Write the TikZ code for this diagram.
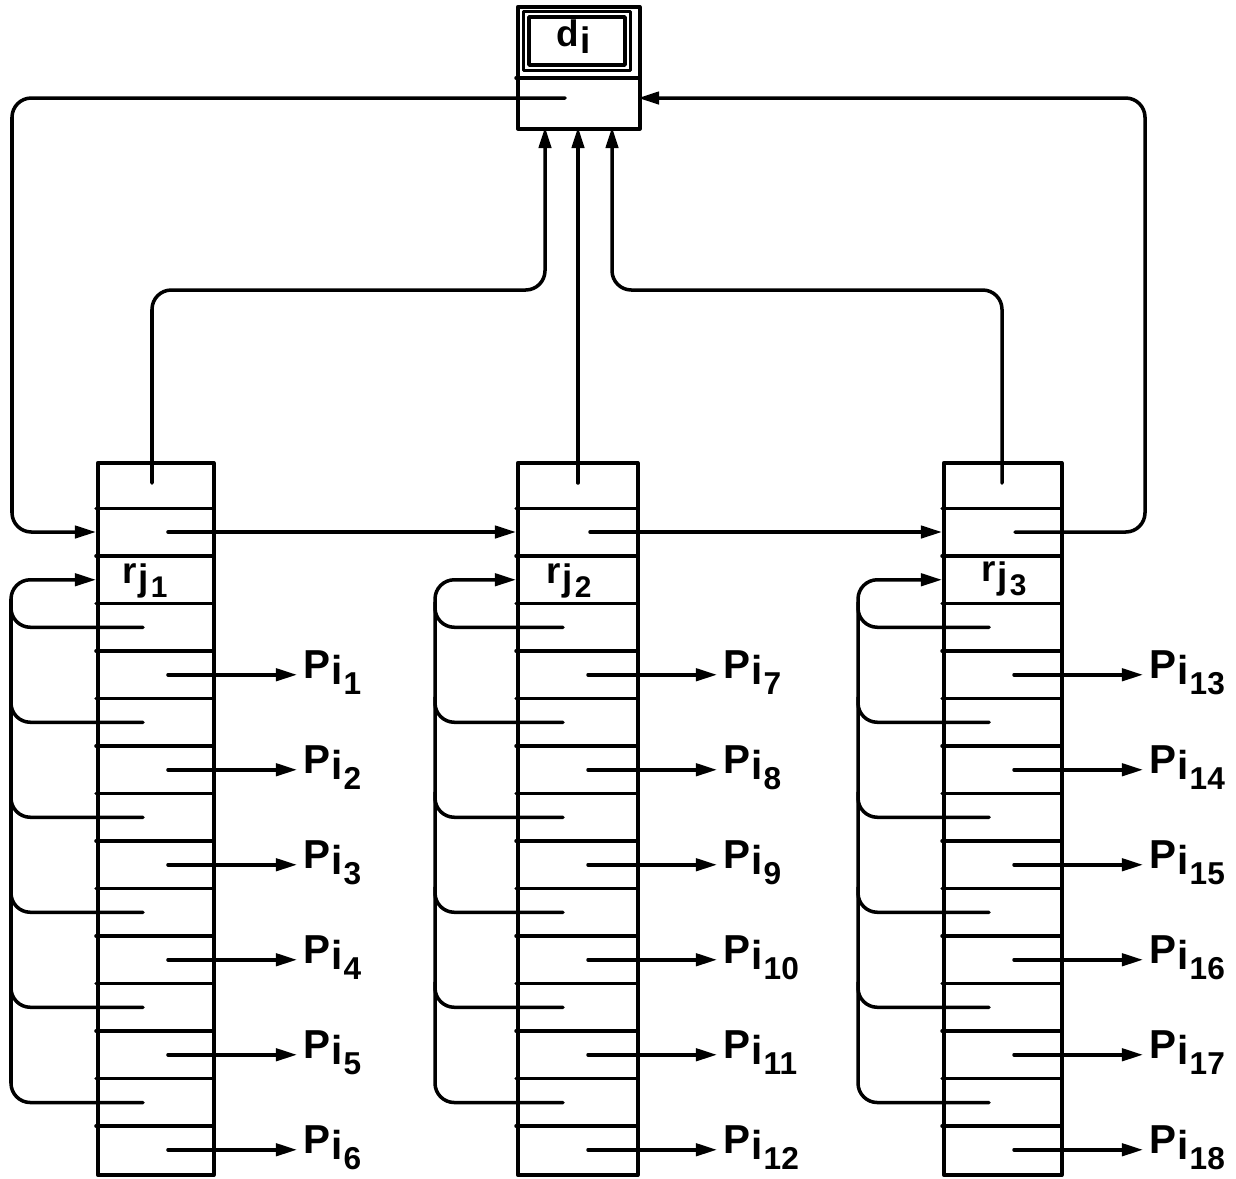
\documentclass[tikz,border=0pt]{standalone}
\usepackage{fontspec}
\setmainfont{Liberation Sans}
\usetikzlibrary{arrows.meta}
\newcommand\plab[1]{\fontsize{23}{23}\selectfont\bfseries P\kern0.5pt\raisebox{-3pt}{i}\kern0.5pt\raisebox{-9pt}{\fontsize{18}{18}\selectfont #1}}
\newcommand\rlab[1]{\fontsize{21}{21}\selectfont\bfseries r\kern1pt\raisebox{-4pt}{j}\kern1pt\raisebox{-8pt}{\fontsize{17}{17}\selectfont #1}}
\begin{document}
\begin{tikzpicture}[x=0.02cm,y=-0.02cm, line width=2pt, line cap=round, line join=round,
  >={Triangle[length=12pt,width=7pt]},
  conn/.style={->,rounded corners=11pt},
  bus/.style={rounded corners=11pt},
  lab/.style={anchor=base west,inner sep=0pt}]
\useasboundingbox (0,0) rectangle (1236,1178);

% top box d_i
\node[draw, inner sep=0pt, minimum width=2.44cm, minimum height=2.44cm, anchor=north west] (dbox) at (516,5) {};
\draw (523.5,11.5) rectangle (630.5,70.5);
\draw (529,17) rectangle (625,65);
\draw (516,78) -- (638,78);
\node[lab] (dlab) at (555,46) {\fontsize{21}{21}\selectfont\bfseries d\kern0.5pt\raisebox{-4pt}{i}};
\coordinate (dout) at (565,98);
\coordinate (dright) at (638,98);
\coordinate (din1) at (545,127);
\coordinate (din2) at (578,127);
\coordinate (din3) at (612,127);

% columns
\foreach \c/\L/\W in {1/96/116, 2/516/120, 3/942/118}{
  \node[draw, inner sep=0pt, minimum width=\W*0.02cm, minimum height=14.25cm, anchor=north west] (col\c) at (\L,461) {};
  \foreach \k in {1,...,14}
    \draw (\L,{461+47.5*\k}) -- ({\L+\W},{461+47.5*\k});
  \coordinate (nxin\c) at (\L,532);
}
\coordinate (up1) at (152,483);
\coordinate (up2) at (578,483);
\coordinate (up3) at (1002,483);
\coordinate (nxout1) at (168,532);
\coordinate (nxout2) at (590,532);
\coordinate (nxout3) at (1015,532);

% pointers to d_i
\draw[conn] (up1) -- (152,290) -- (545,290) -- (din1);
\draw[->] (up2) -- (din2);
\draw[conn] (up3) -- (1002,290) -- (612,290) -- (din3);

% chain of next pointers
\draw[conn] (dout) -- (12,98) -- (12,532) -- (nxin1);
\draw[->] (nxout1) -- (nxin2);
\draw[->] (nxout2) -- (nxin3);
\draw[conn] (nxout3) -- (1145,532) -- (1145,98) -- (dright);

% back pointers and P arrows
\foreach \c/\L/\B in {1/96/11, 2/516/435, 3/942/858}{
  \coordinate (rin\c) at (\L,579.75);
  \draw[conn] ({\L+47},1102.5) -- (\B,1102.5) -- (\B,579.75) -- (rin\c);
  \foreach \k in {4,6,8,10,12}
    \draw[bus] ({\L+47},{461+47.5*(\k-0.5)}) -- (\B,{461+47.5*(\k-0.5)}) -- (\B,{461+47.5*(\k-0.5)-25});
}
\foreach \c/\L in {1/96, 2/516, 3/942}{
  \foreach \m in {1,...,6}{
    \pgfmathtruncatemacro{\n}{(\c-1)*6+\m}
    \pgfmathsetmacro{\yy}{461+47.5*(2*\m+2.5)}
    \coordinate (ps\n) at ({\L+72},\yy);
    \node[lab] (p\n) at ({\L+206},{\yy+4}) {\plab{\n}};
    \draw[->] (ps\n) -- ({\L+201},\yy);
  }
}
\node[lab] (r1) at (121,583) {\rlab{1}};
\node[lab] (r2) at (545,583) {\rlab{2}};
\node[lab] (r3) at (980,581) {\rlab{3}};
\end{tikzpicture}
\end{document}
